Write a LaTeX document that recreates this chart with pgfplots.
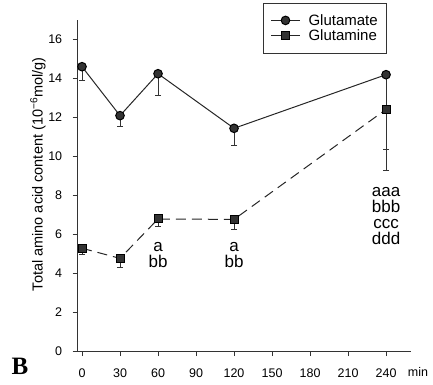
\documentclass[border=0pt]{standalone}
\usepackage{fontspec}
\setmainfont{Liberation Sans}
\newfontfamily\serifB{Liberation Serif}
\usepackage{pgfplots}
\pgfplotsset{compat=1.18}
\definecolor{mk}{HTML}{333333}
\begin{document}
\begin{tikzpicture}
\path[use as bounding box] (-77.7pt,-33pt) rectangle (355.3pt,351pt);
\begin{axis}[
 at={(0pt,0pt)}, anchor=south west,
 scale only axis, width=333.3pt, height=331.5pt,
 xmin=-3.4, xmax=259.7, ymin=0, ymax=17,
 axis lines=left, axis line style={-, line width=0.9pt, black!80},
 tick align=outside, major tick length=5pt,
 tick style={line width=0.9pt, black!80},
 xtick={0,30,...,240}, ytick={0,2,...,16},
 /pgf/number format/assume math mode=true,
 tick label style={font=\fontsize{12.5}{14}\selectfont},
 yticklabel style={xshift=-7pt},
 xticklabel style={yshift=-9pt},
 clip=false,
 every axis y label/.style={at={(axis description cs:-0.119,0.533)}, rotate=90, anchor=center},
 ylabel={\fontsize{14.5}{16}\selectfont Total amino acid content (10\textsuperscript{−6}mol/g)},
 legend style={at={(axis description cs:0.928,1.05)}, anchor=north east, draw=black!80, line width=0.6pt,
   font=\fontsize{15}{17}\selectfont, row sep=-1pt, inner xsep=7pt, inner ysep=9pt},
 legend cell align=left,
 legend image code/.code={\draw[#1,solid] (0pt,0pt) -- (29pt,0pt);
   \draw[#1,solid,only marks] plot coordinates {(14.5pt,0pt)};
   \path (35pt,0pt);},
]
\addplot[black!85, line width=1pt, mark=*, mark size=4.3pt, mark options={fill=mk, draw=black, solid},
  error bars/.cd, y dir=minus, y explicit,
  error bar style={line width=0.8pt, black!80, solid},
  error mark options={rotate=90, mark size=3pt, line width=0.8pt, black!80}]
 table[x=t, y=v, y error=e] {
 t v e
 0 14.58 0.72
 30 12.07 0.55
 60 14.22 1.09
 120 11.42 0.87
 240 14.17 3.83
 };
\addlegendentry{Glutamate}
\addplot[black!85, line width=1pt, dash pattern=on 10pt off 6pt, mark=square*, mark size=4pt, mark options={fill=mk, draw=black, solid},
  error bars/.cd, y dir=minus, y explicit,
  error bar style={line width=0.8pt, black!80, solid},
  error mark options={rotate=90, mark size=3pt, line width=0.8pt, black!80}]
 table[x=t, y=v, y error=e] {
 t v e
 0 5.27 0.30
 30 4.75 0.46
 60 6.77 0.36
 120 6.75 0.49
 240 12.39 3.14
 };
\addlegendentry{Glutamine}
\node[align=center, font=\fontsize{17}{16}\selectfont] at (axis cs:60,4.92) {a\\bb};
\node[align=center, font=\fontsize{17}{16}\selectfont] at (axis cs:120,4.92) {a\\bb};
\node[align=center, font=\fontsize{17}{16}\selectfont] at (axis cs:240,6.92) {aaa\\bbb\\ccc\\ddd};
\node[font=\fontsize{12.5}{14}\selectfont] at (axis cs:265.2,0) [yshift=-21pt] {min};
\end{axis}
\node[font=\serifB\bfseries\fontsize{25}{25}\selectfont] at (-57.7pt,-15pt) {B};
\end{tikzpicture}
\end{document}
